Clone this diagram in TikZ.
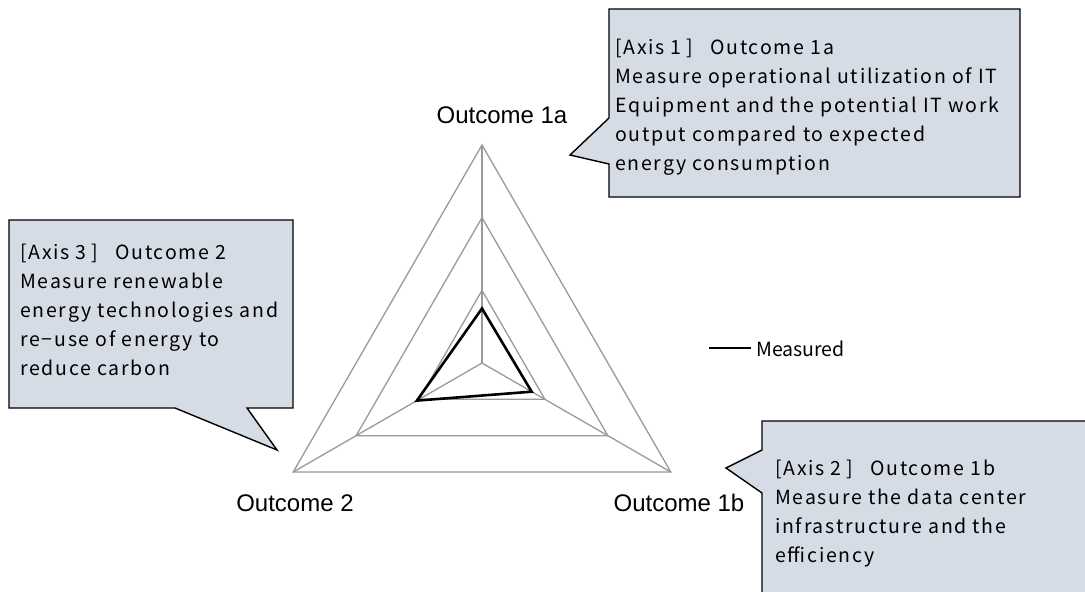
\documentclass[tikz,border=0pt]{standalone}
\usepackage{fontspec}
\setmainfont{Liberation Sans}
\newfontfamily\gothic{Noto Sans CJK JP}
\newfontfamily\gothicsp[LetterSpace=9]{Noto Sans CJK JP}
\usetikzlibrary{calc}
\definecolor{calloutfill}{HTML}{D6DCE5}
\definecolor{gridgray}{HTML}{9A9A9A}
\begin{document}
\begin{tikzpicture}[x=1pt,y=-1pt,
  gridline/.style={draw=gridgray, line width=1.3pt, line join=miter},
  measured/.style={draw=black, line width=2.6pt, line join=miter},
  callout/.style={fill=calloutfill, draw=black, line width=1.4pt, line join=miter},
  ctext/.style={font=\gothicsp\fontsize{19.5}{29}\selectfont, align=left, anchor=base west, inner sep=0pt},
  legtext/.style={font=\gothic\fontsize{19.5}{29}\selectfont, anchor=base west, inner sep=0pt},
  axlabel/.style={font=\fontsize{24}{28}\selectfont, inner sep=0pt, anchor=base}]
\path[use as bounding box, clip] (0,0) rectangle (1085,592);
\fill[white] (0,0) rectangle (1085,592);

% radar geometry
\coordinate (O) at (482,363);
\coordinate (A) at (482,145);
\coordinate (B) at (670.8,472);
\coordinate (C) at (293.2,472);

% grid
\draw[gridline] (A) -- (B) -- (C) -- cycle;
\draw[gridline] ($(O)!2/3!(A)$) -- ($(O)!2/3!(B)$) -- ($(O)!2/3!(C)$) -- cycle;
\draw[gridline] ($(O)!1/3!(A)$) -- ($(O)!1/3!(B)$) -- ($(O)!1/3!(C)$) -- cycle;
\draw[gridline] (O) -- (A);
\draw[gridline] (O) -- (B);
\draw[gridline] (O) -- (C);

% measured series
\coordinate (M1) at ($(O)!0.25!(A)$);
\coordinate (M2) at ($(O)!0.263!(B)$);
\coordinate (M3) at ($(O)!0.345!(C)$);
\draw[measured] (M1) -- (M2) -- (M3) -- cycle;

% axis labels
\node[axlabel] (L1) at (502,123) {Outcome 1a};
\node[axlabel] (L2) at (679,511.5) {Outcome 1b};
\node[axlabel] (L3) at (295,511.5) {Outcome 2};

% legend
\node[legtext] (lgt) at (756,356.5) {Measured};
\coordinate (lgA) at ($(lgt.west)+(-47,-1)$);
\coordinate (lgB) at ($(lgt.west)+(-5,-1)$);
\draw[measured] (lgA) -- (lgB);

% callouts
\draw[callout] (609,9) -- (1020,9) -- (1020,197) -- (609,197) -- (609,164) -- (570,155) -- (609,118) -- cycle;
\draw[callout] (9,220) -- (293,220) -- (293,408) -- (247,408) -- (277,450) -- (175,408) -- (9,408) -- cycle;
\draw[callout] (762,421) -- (1100,421) -- (1100,610) -- (762,610) -- (762,493) -- (726,468) -- (762,450) -- cycle;

% callout texts (base anchor = baseline of last line)
\node[ctext] (t1) at (615,170) {[Axis 1\hspace{5pt}]\hspace{17pt}Outcome 1a\\Measure operational utilization of IT\\Equipment and the potential IT work\\output compared to expected\\energy consumption};
\node[ctext] (t3) at (20,375) {[Axis 3\hspace{5pt}]\hspace{17pt}Outcome 2\\Measure renewable\\energy technologies and\\re−use of energy to\\reduce carbon};
\node[ctext] (t2) at (775,562.5) {[Axis 2\hspace{5pt}]\hspace{17pt}Outcome 1b\\Measure the data center\\infrastructure and the\\efficiency};
\end{tikzpicture}
\end{document}
